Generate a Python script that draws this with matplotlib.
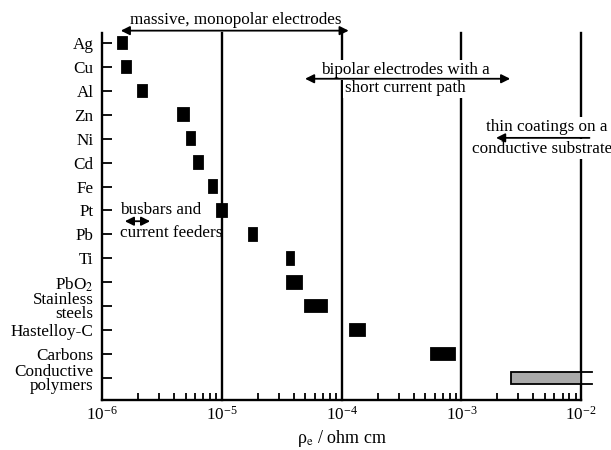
import matplotlib
matplotlib.use("Agg")
import matplotlib.pyplot as plt
from matplotlib.ticker import LogLocator, NullFormatter

plt.rcParams['font.family'] = ['Liberation Serif', 'DejaVu Serif']
plt.rcParams['mathtext.fontset'] = 'stix'

# materials (top to bottom) and resistivity ranges, ohm cm
materials = ['Ag', 'Cu', 'Al', 'Zn', 'Ni', 'Cd', 'Fe', 'Pt', 'Pb', 'Ti',
             'PbO$_2$', 'Stainless\nsteels', 'Hastelloy-C', 'Carbons',
             'Conductive\npolymers']
rho_low = [1.36e-6, 1.47e-6, 2.0e-6, 4.3e-6, 5.1e-6, 5.85e-6, 7.8e-6, 9.1e-6,
           1.68e-5, 3.48e-5, 3.48e-5, 5.0e-5, 1.17e-4, 5.6e-4, 2.6e-3]
rho_high = [1.61e-6, 1.75e-6, 2.37e-6, 5.3e-6, 5.96e-6, 6.95e-6, 9.1e-6, 1.1e-5,
            1.96e-5, 3.98e-5, 4.64e-5, 7.5e-5, 1.58e-4, 8.9e-4, 1.0e-2]
decade_lines = [1e-5, 1e-4, 1e-3, 1e-2]

fs = 12.3

fig = plt.figure(figsize=(6.11, 4.5), dpi=100)
ax = fig.add_axes([0.167, 0.111, 0.784, 0.816])

ypos = list(range(len(materials)))
widths = [h - l for l, h in zip(rho_low, rho_high)]
colors = ['black'] * (len(materials) - 1) + ['#aaaaaa']
ax.barh(ypos, widths, left=rho_low, height=0.52, color=colors,
        edgecolor='black', linewidth=1.3, zorder=3)

# open end of the conductive polymers bar
yp = ypos[-1]
for dy in (-0.26, 0.26):
    ax.plot([rho_high[-1], 1.24e-2], [yp + dy, yp + dy], color='black',
            lw=1.3, clip_on=False, zorder=3)

for x in decade_lines:
    ax.axvline(x, color='black', lw=1.7, zorder=1, clip_on=False)

ax.set_xscale('log')
ax.set_xlim(1e-6, 1e-2)
ax.set_ylim(len(materials) - 1 + 0.92, -0.42)

ax.set_yticks(ypos)
ax.set_yticklabels(materials, fontsize=fs, linespacing=0.85)
ax.tick_params(axis='y', direction='in', length=7, width=1.3, pad=6)
ax.xaxis.set_major_locator(LogLocator(base=10))
ax.xaxis.set_minor_locator(LogLocator(base=10, subs=range(2, 10)))
ax.xaxis.set_minor_formatter(NullFormatter())
ax.tick_params(axis='x', which='major', direction='in', length=7, width=1.3,
               labelsize=fs, pad=4)
ax.tick_params(axis='x', which='minor', direction='in', length=5, width=1.3)

ax.spines['top'].set_visible(False)
ax.spines['right'].set_visible(False)
ax.spines['left'].set_linewidth(1.7)
ax.spines['bottom'].set_linewidth(1.7)

ax.set_xlabel(r'ρ$_{\mathrm{e}}$ / ohm cm', fontsize=13, labelpad=3)

trans = ax.get_xaxis_transform()
arrow = dict(arrowstyle='-|>', color='black', lw=1.3, mutation_scale=13)
arrow2 = dict(arrowstyle='<|-|>', color='black', lw=1.3, mutation_scale=13)
white = dict(facecolor='white', edgecolor='none', pad=1.5)

# massive, monopolar electrodes
ax.annotate('', xy=(1.36e-6, 1.006), xytext=(1.21e-4, 1.006),
            xycoords=trans, textcoords=trans, arrowprops=arrow2,
            annotation_clip=False)
ax.text(1.3e-5, 1.035, 'massive, monopolar electrodes', transform=trans,
        ha='center', va='center', fontsize=fs)

# bipolar electrodes
ax.text(3.4e-4, 0.899, 'bipolar electrodes with a', transform=trans,
        ha='center', va='center', fontsize=fs, zorder=2, bbox=white)
ax.text(3.4e-4, 0.851, 'short current path', transform=trans,
        ha='center', va='center', fontsize=fs, zorder=2, bbox=white)
ax.annotate('', xy=(4.7e-5, 0.875), xytext=(2.7e-3, 0.875),
            xycoords=trans, textcoords=trans, arrowprops=arrow2, zorder=4)

# thin coatings
ax.text(5.2e-3, 0.744, 'thin coatings on a', transform=trans,
        ha='center', va='center', fontsize=fs, zorder=2, bbox=white)
ax.text(4.75e-3, 0.684, 'conductive substrate', transform=trans,
        ha='center', va='center', fontsize=fs, zorder=2, bbox=white)
ax.annotate('', xy=(1.85e-3, 0.714), xytext=(1.24e-2, 0.714),
            xycoords=trans, textcoords=trans, arrowprops=arrow,
            annotation_clip=False, zorder=4)

# busbars
ax.text(1.41e-6, 0.518, 'busbars and', transform=trans,
        ha='left', va='center', fontsize=fs)
ax.text(1.41e-6, 0.455, 'current feeders', transform=trans,
        ha='left', va='center', fontsize=fs)
ax.annotate('', xy=(1.47e-6, 0.487), xytext=(2.66e-6, 0.487),
            xycoords=trans, textcoords=trans, arrowprops=arrow2)

fig.savefig('out.png', dpi=100)
